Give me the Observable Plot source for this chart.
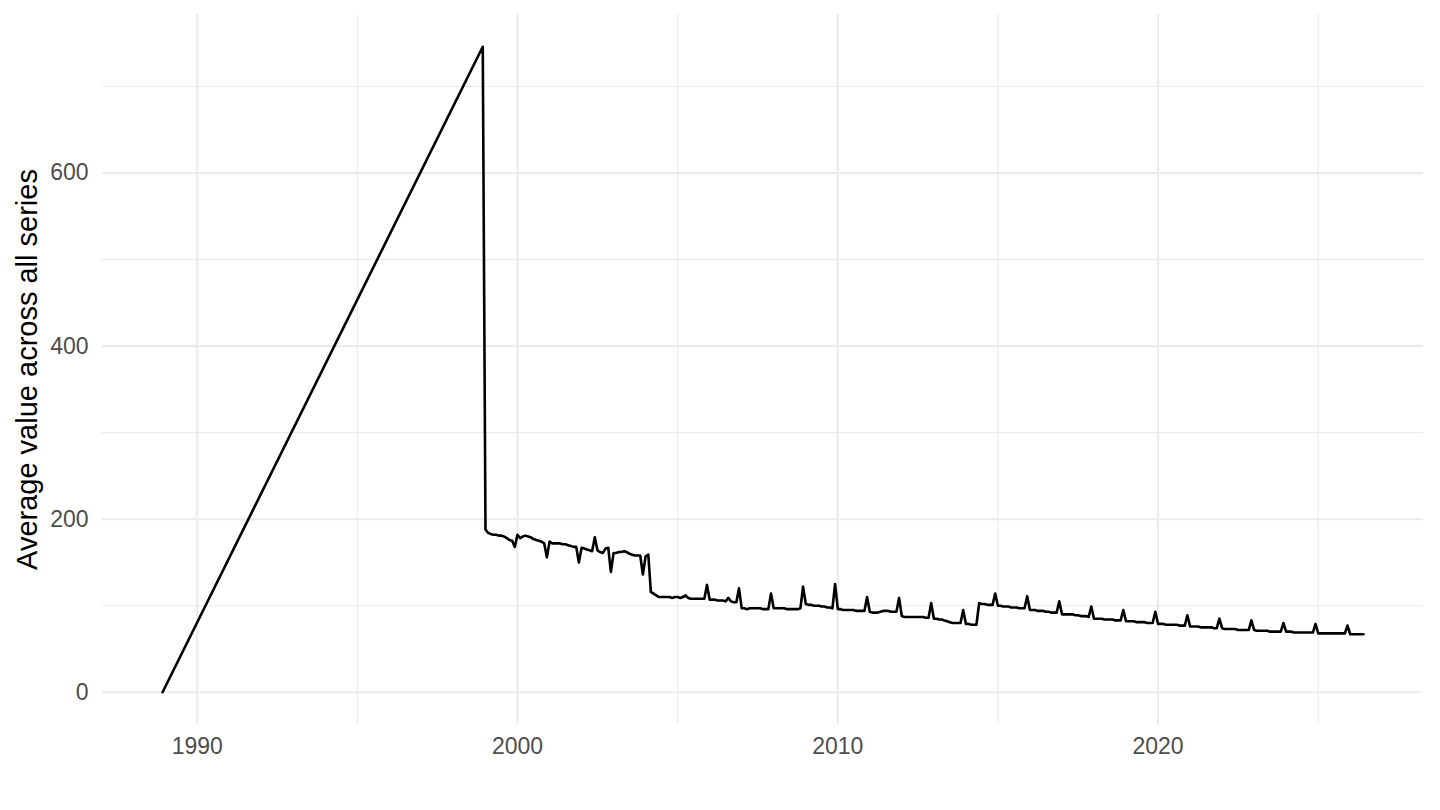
<!DOCTYPE html>
<html>
<head>
<meta charset="utf-8">
<script src="https://cdn.jsdelivr.net/npm/d3@7"></script>
<script src="https://cdn.jsdelivr.net/npm/@observablehq/plot@0.6"></script>
<style>
  html, body { margin: 0; padding: 0; background: #fff; }
  #chart { width: 1440px; height: 810px; }
</style>
</head>
<body>
<div id="chart"></div>
<script>
// Early sparse observations
const earlyDates = ["1988-12-01", "1998-12-01"];
const earlyValues = [0, 746];

// Monthly observations starting January 1999
const monthlyStartYear = 1999;
const monthlyValues = [
  // 1999
  188, 184, 183, 182, 182, 181, 181, 180, 178, 176, 175, 168,
  // 2000
  182, 178, 180, 181, 180, 179, 177, 176, 175, 174, 172, 156,
  // 2001
  174, 172, 172, 172, 172, 171, 171, 170, 169, 168, 168, 150,
  // 2002
  167, 166, 165, 164, 163, 179, 164, 162, 161, 166, 167, 139,
  // 2003
  161, 161, 162, 162, 163, 162, 160, 159, 158, 158, 158, 136,
  // 2004
  157, 159, 116, 114, 112, 110, 110, 110, 110, 110, 109, 110,
  // 2005
  110, 109, 110, 112, 109, 108, 108, 108, 108, 108, 108, 124,
  // 2006
  107, 107, 107, 106, 106, 106, 105, 109, 105, 104, 104, 120,
  // 2007
  97, 97, 96, 97, 97, 97, 97, 97, 96, 96, 96, 114,
  // 2008
  97, 97, 97, 97, 97, 96, 96, 96, 96, 96, 97, 122,
  // 2009
  102, 101, 101, 100, 100, 100, 99, 99, 98, 98, 97, 125,
  // 2010
  96, 96, 95, 95, 95, 95, 95, 94, 94, 94, 94, 110,
  // 2011
  93, 92, 92, 92, 93, 94, 94, 94, 93, 93, 93, 109,
  // 2012
  88, 87, 87, 87, 87, 87, 87, 87, 87, 86, 86, 103,
  // 2013
  85, 85, 84, 84, 83, 82, 81, 80, 80, 80, 80, 95,
  // 2014
  79, 79, 78, 78, 78, 103, 102, 102, 101, 101, 101, 114,
  // 2015
  100, 100, 99, 99, 99, 98, 98, 98, 97, 97, 97, 111,
  // 2016
  95, 95, 95, 94, 94, 94, 93, 93, 92, 92, 92, 105,
  // 2017
  90, 90, 90, 90, 90, 89, 89, 88, 88, 88, 87, 99,
  // 2018
  85, 85, 85, 85, 84, 84, 84, 84, 83, 83, 83, 95,
  // 2019
  82, 82, 82, 82, 81, 81, 81, 81, 80, 80, 80, 93,
  // 2020
  79, 79, 79, 78, 78, 78, 78, 78, 77, 77, 77, 89,
  // 2021
  76, 76, 76, 76, 75, 75, 75, 75, 75, 74, 74, 85,
  // 2022
  74, 73, 73, 73, 73, 73, 72, 72, 72, 72, 72, 83,
  // 2023
  72, 71, 71, 71, 71, 71, 70, 70, 70, 70, 70, 80,
  // 2024
  70, 70, 70, 69, 69, 69, 69, 69, 69, 69, 69, 79,
  // 2025
  68, 68, 68, 68, 68, 68, 68, 68, 68, 68, 68, 77,
  // 2026
  67, 67, 67, 67, 67, 67
];

const yMajorTicks = [0, 200, 400, 600];
const yMinorTicks = [100, 300, 500, 700];
const xMajorYears = [1990, 2000, 2010, 2020];
const xMinorYears = [1995, 2005, 2015, 2025];
const yTitle = "Average value across all series";

// Build table
const data = [];
earlyDates.forEach((d, i) => data.push({ date: new Date(d + "T00:00:00Z"), value: earlyValues[i] }));
monthlyValues.forEach((v, i) => data.push({ date: new Date(Date.UTC(monthlyStartYear, i, 1)), value: v }));

// ggplot-like 5% expansion
function expand(ext) {
  const span = ext[1] - ext[0];
  return [ext[0] - span * 0.05, ext[1] + span * 0.05];
}
const xExt = expand(d3.extent(data, d => +d.date));
const xDomain = [new Date(xExt[0]), new Date(xExt[1])];
const yDomain = expand(d3.extent(data, d => d.value));

const yearDate = y => new Date(Date.UTC(y, 0, 1));
const grid = "#ebebeb";

const chart = Plot.plot({
  width: 1440,
  height: 810,
  marginLeft: 102,
  marginRight: 17,
  marginTop: 14,
  marginBottom: 86,
  style: { fontFamily: "'Liberation Sans', Arial, Helvetica, sans-serif", background: "#fff" },
  x: { type: "utc", domain: xDomain, axis: null },
  y: { domain: yDomain, axis: null },
  marks: [
    Plot.ruleY(yMinorTicks, { stroke: grid, strokeWidth: 1.1 }),
    Plot.ruleY(yMajorTicks, { stroke: grid, strokeWidth: 2.1 }),
    Plot.ruleX(xMinorYears.map(yearDate), { stroke: grid, strokeWidth: 1.1 }),
    Plot.ruleX(xMajorYears.map(yearDate), { stroke: grid, strokeWidth: 2.1 }),
    Plot.line(data, { x: "date", y: "value", stroke: "#000", strokeWidth: 2.6 }),
    Plot.axisY({ ticks: yMajorTicks, tickSize: 0, tickPadding: 14, fontSize: 23, fill: "#4d4d4d", label: null }),
    Plot.axisX({ ticks: xMajorYears.map(yearDate), tickFormat: d => String(d.getUTCFullYear()), tickSize: 0, tickPadding: 13, fontSize: 23, fill: "#4d4d4d", label: null }),
    Plot.text([yTitle], { frameAnchor: "left", textAnchor: "middle", rotate: -90, dx: -66, lineAnchor: "bottom", fontSize: 29, fill: "#000" })
  ]
});
document.getElementById("chart").appendChild(chart);
</script>
</body>
</html>
